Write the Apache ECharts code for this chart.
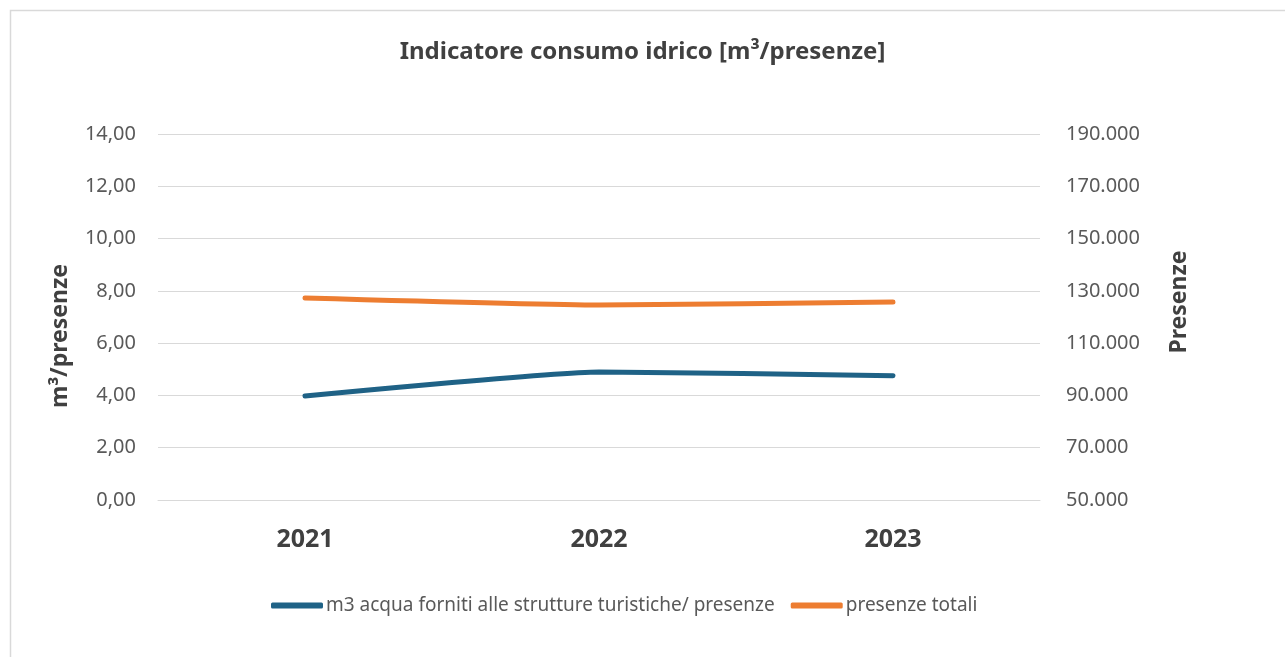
<!DOCTYPE html>
<html>
<head>
<meta charset="utf-8">
<script src="https://cdn.jsdelivr.net/npm/echarts@6/dist/echarts.min.js"></script>
<style>
  html, body { margin: 0; padding: 0; background: #fff; }
  #chart { width: 1285px; height: 657px; }
</style>
</head>
<body>
<div id="chart"></div>
<script>
// valori
var anni = ["2021", "2022", "2023"];
var m3PerPresenza = [3.98, 4.90, 4.75];
var presenzeTotali = [127300, 124600, 125700];
var nomiSerie = ["m3 acqua forniti alle strutture turistiche/ presenze", "presenze totali"];

var fontBase = "'Noto Sans', 'Open Sans', sans-serif";

function fmtIt(v, dec) {
  return v.toLocaleString("it-IT", { minimumFractionDigits: dec, maximumFractionDigits: dec });
}

var chart = echarts.init(document.getElementById("chart"));
chart.setOption({
  backgroundColor: "#fff",
  textStyle: { fontFamily: fontBase },
  graphic: [{
    type: "rect",
    shape: { x: 10.5, y: 10.5, width: 1400, height: 800 },
    style: { fill: "none", stroke: "#d9d9d9", lineWidth: 1.5 },
    silent: true
  }],
  title: {
    text: "Indicatore consumo idrico [m³/presenze]",
    left: "center",
    top: 35,
    textStyle: { fontFamily: fontBase, fontSize: 24, fontWeight: "bold", color: "#404040" }
  },
  legend: {
    bottom: 37,
    left: 266,
    itemWidth: 52,
    itemHeight: 6,
    itemGap: 16,
    icon: "roundRect",
    textStyle: { fontFamily: fontBase, fontSize: 19, color: "#595959", padding: [0, 0, 0, -2] },
    data: nomiSerie
  },
  grid: { left: 158, right: 245, top: 134, bottom: 157 },
  xAxis: {
    type: "category",
    data: anni,
    boundaryGap: true,
    axisLine: { show: true, lineStyle: { color: "#d9d9d9" } },
    axisTick: { show: false },
    axisLabel: { margin: 27, fontFamily: fontBase, fontSize: 25, fontWeight: "bold", color: "#404040" }
  },
  yAxis: [{
    type: "value",
    min: 0,
    max: 14,
    interval: 2,
    name: "m³/presenze",
    nameLocation: "middle",
    nameGap: 86,
    nameTextStyle: { fontFamily: fontBase, fontSize: 23, fontWeight: "bold", color: "#404040", padding: [0, 38, 0, 0] },
    axisLine: { show: false },
    axisTick: { show: false },
    axisLabel: { margin: 22, fontSize: 20, color: "#595959", formatter: function (v) { return fmtIt(v, 2); } },
    splitLine: { lineStyle: { color: "#d9d9d9", width: 1 } }
  }, {
    type: "value",
    min: 50000,
    max: 190000,
    interval: 10000,
    name: "Presenze",
    nameLocation: "middle",
    nameGap: 128,
    nameTextStyle: { fontFamily: fontBase, fontSize: 23, fontWeight: "bold", color: "#404040", padding: [0, 0, 0, 30] },
    axisLine: { show: false },
    axisTick: { show: false },
    axisLabel: {
      margin: 26, fontSize: 20, color: "#595959",
      formatter: function (v) { return (v - 50000) % 20000 === 0 ? fmtIt(v, 0) : ""; }
    },
    splitLine: { show: false }
  }],
  series: [{
    name: nomiSerie[0],
    type: "line",
    yAxisIndex: 0,
    data: m3PerPresenza,
    smooth: 0.15,
    symbol: "none",
    color: "#1f6286",
    lineStyle: { width: 5, color: "#1f6286", cap: "round" }
  }, {
    name: nomiSerie[1],
    type: "line",
    yAxisIndex: 1,
    data: presenzeTotali,
    smooth: 0.15,
    symbol: "none",
    color: "#ed7d31",
    lineStyle: { width: 5, color: "#ed7d31", cap: "round" }
  }]
});
</script>
</body>
</html>
